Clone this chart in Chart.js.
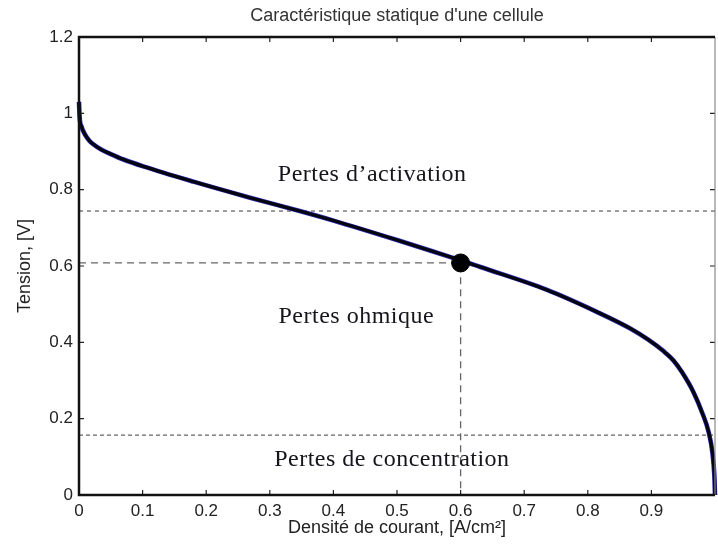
<!DOCTYPE html>
<html>
<head>
<meta charset="utf-8">
<script src="https://cdn.jsdelivr.net/npm/chart.js@4"></script>
<style>
  html, body { margin: 0; padding: 0; background: #fff; }
  #chartCanvas { display: block; }
</style>
</head>
<body>
<canvas id="chartCanvas" width="718" height="546"></canvas>
<script>
// polarisation curve (A/cm2 -> V)
const currentDensity = [0, 0.001, 0.004, 0.01, 0.016, 0.0225, 0.035, 0.049, 0.07, 0.101, 0.18, 0.269, 0.347, 0.4, 0.5, 0.583, 0.6, 0.63, 0.735, 0.814, 0.866, 0.895, 0.919, 0.935, 0.948, 0.966, 0.98, 0.99, 0.996, 0.999, 1.0];
const cellVoltage    = [1.03, 0.99, 0.965, 0.943, 0.929, 0.919, 0.905, 0.894, 0.879, 0.861, 0.821, 0.779, 0.744, 0.719, 0.668, 0.624, 0.615, 0.598, 0.538, 0.48, 0.437, 0.407, 0.377, 0.352, 0.322, 0.27, 0.215, 0.165, 0.11, 0.05, 0.0];

const activationLevel = 0.744;
const concentrationLevel = 0.157;
const operatingCurrent = 0.6;
const operatingVoltage = 0.608;

const xTicks = [0, 0.1, 0.2, 0.3, 0.4, 0.5, 0.6, 0.7, 0.8, 0.9];
const xTickLabels = ['0', '0.1', '0.2', '0.3', '0.4', '0.5', '0.6', '0.7', '0.8', '0.9'];
const yTicks = [0, 0.2, 0.4, 0.6, 0.8, 1.0, 1.2];
const yTickLabels = ['0', '0.2', '0.4', '0.6', '0.8', '1', '1.2'];

const zoneLabels = ['Pertes d\u2019activation', 'Pertes ohmique', 'Pertes de concentration'];

function curvePoints() {
    return currentDensity.map((v, i) => ({ x: v, y: cellVoltage[i] }));
}

function dashed(points, dash) {
    return {
        data: points,
        showLine: true,
        borderColor: '#666',
        borderWidth: 1.3,
        borderDash: dash,
        pointRadius: 0
    };
}

const frame = {
    id: 'frame',
    afterDraw(chart) {
        const { ctx, chartArea: a, scales: { x, y } } = chart;
        ctx.save();
        // inward ticks on all four sides
        ctx.strokeStyle = '#222';
        ctx.lineWidth = 1.2;
        ctx.beginPath();
        x.ticks.forEach(t => {
            const px = x.getPixelForValue(t.value);
            ctx.moveTo(px, a.bottom); ctx.lineTo(px, a.bottom - 5);
            ctx.moveTo(px, a.top); ctx.lineTo(px, a.top + 5);
        });
        y.ticks.forEach(t => {
            const py = y.getPixelForValue(t.value);
            ctx.moveTo(a.left, py); ctx.lineTo(a.left + 5, py);
            ctx.moveTo(a.right, py); ctx.lineTo(a.right - 5, py);
        });
        ctx.stroke();

        ctx.strokeStyle = '#888';
        ctx.lineWidth = 1.2;
        ctx.beginPath();
        ctx.moveTo(a.right, a.top); ctx.lineTo(a.right, a.bottom);
        ctx.stroke();

        ctx.strokeStyle = '#111';
        ctx.lineWidth = 2.5;
        ctx.beginPath();
        ctx.moveTo(a.right, a.top); ctx.lineTo(a.left, a.top);
        ctx.lineTo(a.left, a.bottom); ctx.lineTo(a.right, a.bottom);
        ctx.stroke();

        // zone names
        ctx.fillStyle = '#15151c';
        ctx.font = '24px "Liberation Serif", serif';
        ctx.letterSpacing = '0.5px';
        ctx.textAlign = 'center';
        ctx.textBaseline = 'middle';
        const spots = [[0.461, 0.838], [0.436, 0.466], [0.492, 0.092]];
        zoneLabels.forEach((txt, i) => {
            ctx.fillText(txt, x.getPixelForValue(spots[i][0]), y.getPixelForValue(spots[i][1]));
        });
        ctx.restore();
    }
};

// Chart.js paints dataset 0 last, so the operating point comes first
const ctx = document.getElementById('chartCanvas').getContext('2d');
new Chart(ctx, {
    type: 'scatter',
    data: {
        datasets: [
            {
                data: [{ x: operatingCurrent, y: operatingVoltage }],
                backgroundColor: '#000',
                borderColor: '#000',
                pointRadius: 9
            },
            {
                data: curvePoints(),
                showLine: true,
                borderColor: '#050510',
                borderWidth: 3.2,
                cubicInterpolationMode: 'monotone',
                pointRadius: 0,
                clip: 4
            },
            {
                data: curvePoints(),
                showLine: true,
                borderColor: '#2a2ab0',
                borderWidth: 4.6,
                cubicInterpolationMode: 'monotone',
                pointRadius: 0,
                clip: 4
            },
            dashed([{ x: 0, y: activationLevel }, { x: 1, y: activationLevel }], [4, 4]),
            dashed([{ x: 0, y: concentrationLevel }, { x: 1, y: concentrationLevel }], [4, 3]),
            dashed([{ x: 0, y: operatingVoltage }, { x: operatingCurrent, y: operatingVoltage }, { x: operatingCurrent, y: 0 }], [7, 5])
        ]
    },
    options: {
        responsive: false,
        animation: false,
        layout: { autoPadding: false, padding: { right: 3 } },
        plugins: { legend: { display: false }, tooltip: { enabled: false } },
        scales: {
            x: {
                type: 'linear',
                position: 'bottom',
                min: 0,
                max: 1,
                afterBuildTicks: s => { s.ticks = xTicks.map(v => ({ value: v })); },
                afterFit: s => { s.height = 51; },
                grid: { display: false, drawTicks: false },
                border: { display: false },
                ticks: {
                    padding: 6,
                    color: '#222',
                    font: { family: '"Liberation Sans", Arial', size: 17 },
                    callback: (v, i) => xTickLabels[i]
                },
                title: {
                    display: true,
                    text: 'Densité de courant, [A/cm²]',
                    color: '#222',
                    font: { family: '"Liberation Sans", Arial', size: 18 },
                    padding: { top: 0, bottom: 7 }
                }
            },
            x2: {
                type: 'linear',
                position: 'top',
                min: 0,
                max: 1,
                afterFit: s => { s.height = 37; },
                grid: { display: false, drawTicks: false },
                border: { display: false },
                ticks: { display: false },
                title: {
                    display: true,
                    text: 'Caractéristique statique d\'une cellule',
                    color: '#333',
                    font: { family: '"Liberation Sans", Arial', size: 18 },
                    padding: { top: 5, bottom: 0 }
                }
            },
            y: {
                type: 'linear',
                position: 'left',
                min: 0,
                max: 1.2,
                afterBuildTicks: s => { s.ticks = yTicks.map(v => ({ value: v })); },
                afterFit: s => { s.width = 79; },
                grid: { display: false, drawTicks: false },
                border: { display: false },
                ticks: {
                    padding: 6,
                    color: '#222',
                    font: { family: '"Liberation Sans", Arial', size: 17 },
                    callback: (v, i) => yTickLabels[i]
                },
                title: {
                    display: true,
                    text: 'Tension, [V]',
                    color: '#222',
                    font: { family: '"Liberation Sans", Arial', size: 18 },
                    padding: { top: 14, bottom: 0 }
                }
            }
        }
    },
    plugins: [frame]
});
</script>
</body>
</html>
